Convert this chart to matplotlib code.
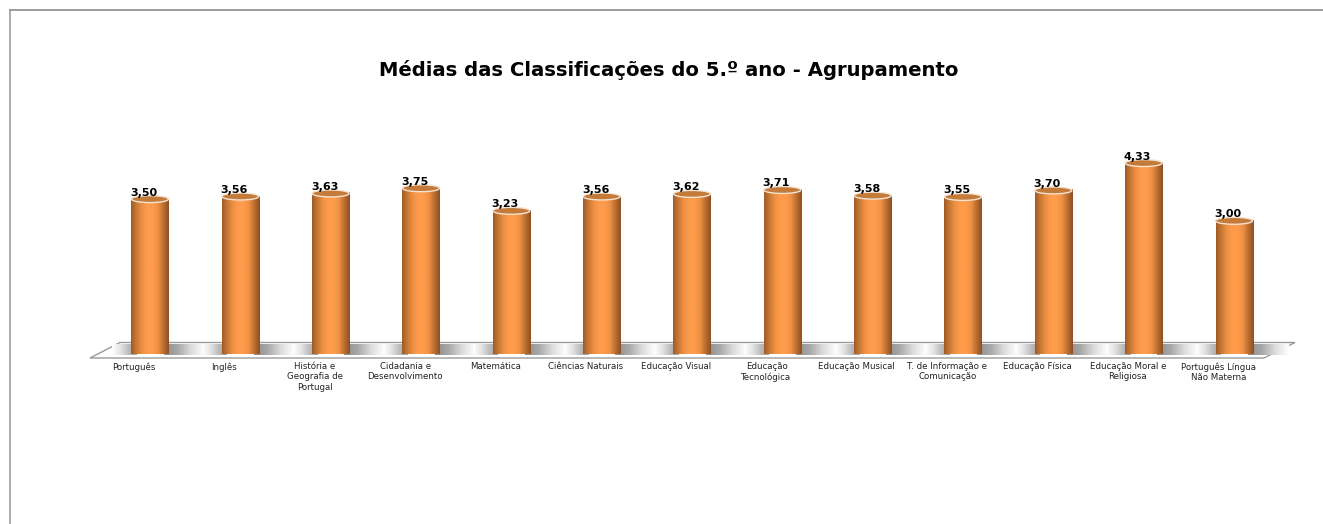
import numpy as np
import matplotlib
matplotlib.use('Agg')
import matplotlib.pyplot as plt
from matplotlib.colors import LinearSegmentedColormap
from matplotlib.lines import Line2D
from matplotlib.patches import Ellipse, Polygon

plt.rcParams['font.family'] = ['DejaVu Sans']

W, H = 1323, 524

subjects = ['Português', 'Inglês', 'História e\nGeografia de\nPortugal',
            'Cidadania e\nDesenvolvimento', 'Matemática', 'Ciências Naturais',
            'Educação Visual', 'Educação\nTecnológica', 'Educação Musical',
            'T. de Informação e\nComunicação', 'Educação Física',
            'Educação Moral e\nReligiosa', 'Português Língua\nNão Materna']
means = [3.50, 3.56, 3.63, 3.75, 3.23, 3.56, 3.62, 3.71, 3.58, 3.55, 3.70, 4.33, 3.00]
labels = ['3,50', '3,56', '3,63', '3,75', '3,23', '3,56', '3,62', '3,71', '3,58',
          '3,55', '3,70', '4,33', '3,00']

fig = plt.figure(figsize=(W / 100, H / 100), dpi=100)

# pixels -> figure fraction helper
def px(x, y):
    return x / W, 1 - y / H

# plot area: one category is 90.33 px wide, one unit of value is 43.4 px high
x0, y_top = px(104.8, 99)
x1, y_base = px(1279.2, 351)
ax = fig.add_axes([x0, y_base, x1 - x0, y_top - y_base], zorder=2)
ax.axis('off')

# chart border, only top and left are visible in the picture
fig.add_artist(Line2D([10 / W, 1], [1 - 10 / H, 1 - 10 / H], color='#8c8c8c', lw=1.2))
fig.add_artist(Line2D([10 / W, 10 / W], [0, 1 - 10 / H], color='#9c9c9c', lw=1.2))

# floor
floor = Polygon([px(90, 358), px(120, 342.5), px(1295, 342.5), px(1264, 358)], closed=True,
                fc='white', ec='#9a9a9a', lw=1, transform=fig.transFigure, zorder=1)
fig.add_artist(floor)

bar_w = 0.41
ell_h = 0.16
body = LinearSegmentedColormap.from_list('body', ['#a35b26', '#c97a36', '#ee9044', '#ff9c4c',
                                                  '#ff9c4c', '#ee9044', '#bd7030', '#8f5022'])
shadow = LinearSegmentedColormap.from_list('shadow', ['#8e8e8e', '#a8a8a8', '#dcdcdc', '#ffffff'])
shadow_l = LinearSegmentedColormap.from_list('shadow_l', ['#a0a0a0', '#bcbcbc', '#e4e4e4', '#ffffff'])
grad = np.linspace(0, 1, 64).reshape(1, -1)

for i, v in enumerate(means):
    # shadow on the floor, either side of the cylinder
    right = ax.imshow(grad, extent=(i + 0.15, i + 0.6, -0.09, 0.16), aspect='auto',
                      cmap=shadow, zorder=2, clip_on=False)
    right.set_clip_path(floor)
    left = ax.imshow(grad[:, ::-1], extent=(i - 0.42, i - 0.15, -0.09, 0.16), aspect='auto',
                     cmap=shadow_l, zorder=2, clip_on=False)
    left.set_clip_path(floor)

    # cylinder side
    im = ax.imshow(grad, extent=(i - bar_w / 2, i + bar_w / 2, -ell_h / 2, v), aspect='auto',
                   cmap=body, zorder=3, clip_on=False)
    side = Polygon([(i - bar_w / 2, v), (i + bar_w / 2, v), (i + bar_w / 2, 0), (i - bar_w / 2, 0)],
                   fc='none', ec='none', clip_on=False)
    ax.add_patch(side)
    im.set_clip_path(side)
    bottom = Ellipse((i, 0), bar_w, ell_h, fc='none', ec='none', clip_on=False)
    ax.add_patch(bottom)
    foot = ax.imshow(grad, extent=(i - bar_w / 2, i + bar_w / 2, -ell_h / 2, 0.01), aspect='auto',
                     cmap=body, zorder=3, clip_on=False)
    foot.set_clip_path(bottom)

    # top cap
    ax.add_patch(Ellipse((i, v), bar_w, ell_h, fc='#c47a38', ec='#f3e3d3', lw=1, zorder=4,
                         clip_on=False))
    ax.text(i - 0.068, v + 0.035, labels[i], ha='center', va='bottom', fontsize=8,
            fontweight='bold', color='black', zorder=5)
    ax.text(i - 0.175, -0.255, subjects[i], ha='center', va='top', fontsize=6.2, color='#222222',
            linespacing=1.2, clip_on=False)

ax.set_xlim(-0.5, 12.5)
ax.set_ylim(0, 252 / 43.4)

fig.text(669 / W, 1 - 70 / H, 'Médias das Classificações do 5.º ano - Agrupamento', ha='center',
         va='center', fontsize=14.1, fontweight='bold', color='black')

fig.savefig('out.png', dpi=100)
